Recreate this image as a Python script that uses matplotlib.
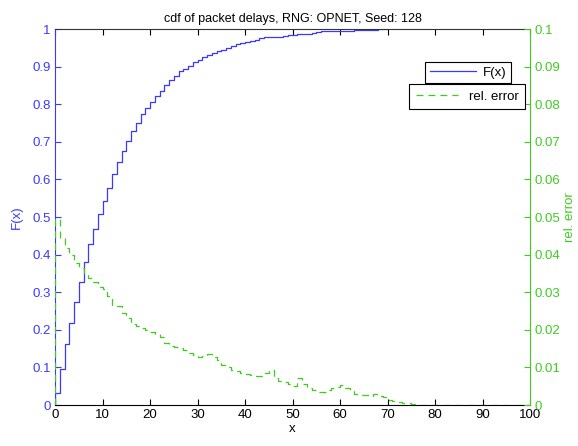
import numpy as np
import matplotlib
matplotlib.use("Agg")
import matplotlib.pyplot as plt
from matplotlib.ticker import FuncFormatter

plt.rcParams['font.family'] = ['Liberation Sans', 'DejaVu Sans']
plt.rcParams['lines.scale_dashes'] = False

# cdf F(x), one value per unit bin [k, k+1)
cdf = [0.031, 0.095, 0.161, 0.219, 0.275, 0.328, 0.381, 0.427, 0.467, 0.508,
       0.543, 0.578, 0.614, 0.647, 0.676, 0.701, 0.728, 0.751, 0.773, 0.789,
       0.806, 0.822, 0.835, 0.851, 0.865, 0.876, 0.887, 0.894, 0.902, 0.912,
       0.917, 0.926, 0.932, 0.936, 0.941, 0.945, 0.949, 0.956, 0.960, 0.963,
       0.965, 0.969, 0.972, 0.975, 0.978, 0.978, 0.980, 0.980, 0.981, 0.984,
       0.984, 0.987, 0.987, 0.988, 0.990, 0.991, 0.994, 0.994, 0.994, 0.994,
       0.994, 0.994, 0.994, 0.997, 0.997, 0.997, 0.997, 0.997, 1.0, 1.0, 1.0]

# relative error per unit bin
rel_err = [0.0495, 0.0443, 0.0417, 0.0398, 0.0378, 0.0365, 0.0348, 0.0338, 0.0328, 0.0315,
           0.0309, 0.0290, 0.0264, 0.0262, 0.0244, 0.0232, 0.0215, 0.0210, 0.0206, 0.0200,
           0.0195, 0.0188, 0.0180, 0.0164, 0.0158, 0.0153, 0.0152, 0.0145, 0.0139, 0.0132,
           0.0128, 0.0130, 0.0136, 0.0128, 0.0120, 0.0107, 0.0100, 0.0093, 0.0090, 0.0085,
           0.0082, 0.0080, 0.0077, 0.0077, 0.0085, 0.0093, 0.0071, 0.0065, 0.0062, 0.0055,
           0.0051, 0.0071, 0.0056, 0.0046, 0.0040, 0.0035, 0.0035, 0.0040, 0.0044, 0.0048,
           0.0053, 0.0045, 0.0038, 0.0030, 0.0027, 0.0027, 0.0025, 0.0029, 0.0025, 0.0022,
           0.0013, 0.0011, 0.0008, 0.0006, 0.0004, 0.0002] + [0.0] * 25

x_cdf = np.r_[0, np.arange(len(cdf))]
y_cdf = np.r_[0, cdf]
x_err = np.r_[0, np.arange(len(rel_err))]
y_err = np.r_[0, rel_err]

blue = '#3a3aff'
green = '#3fcc1f'

fig = plt.figure(figsize=(5.78, 4.46), dpi=100)
ax1 = fig.add_axes([55/578, 41/446, 475/578, 376/446])
ax2 = ax1.twinx()

l1, = ax1.step(x_cdf, y_cdf, where='post', color=blue, lw=0.9, label='F(x)')
l2, = ax2.step(x_err, y_err, where='post', color=green, lw=0.9,
               dashes=(5, 3.6), label='rel. error')

ax1.set_xlim(0, 100)
ax1.set_ylim(0, 1)
ax2.set_ylim(0, 0.1)
ax1.set_xticks(range(0, 101, 10))
ax1.set_yticks(np.linspace(0, 1, 11))
ax2.set_yticks(np.linspace(0, 0.1, 11))
fmt = FuncFormatter(lambda v, p: '%g' % round(v, 4))
ax1.yaxis.set_major_formatter(fmt)
ax2.yaxis.set_major_formatter(fmt)

fs = 9.5
ax1.tick_params(axis='x', direction='in', top=True, length=4, width=0.8,
                labelsize=fs, pad=3, colors='black')
ax1.tick_params(axis='y', direction='in', length=4, width=0.8,
                labelsize=fs, colors=blue, pad=3)
ax2.tick_params(axis='y', direction='in', length=4, width=0.8,
                labelsize=fs, colors=green, pad=3)

ax1.spines['left'].set_color(blue)
ax1.spines['right'].set_visible(False)
ax1.spines['top'].set_color('#333333')
ax1.spines['bottom'].set_color('black')
ax2.spines['right'].set_color(green)
for s in ['left', 'top', 'bottom']:
    ax2.spines[s].set_visible(False)

ax1.set_xlabel('x', fontsize=fs, labelpad=1)
ax1.set_ylabel('F(x)', fontsize=fs, color=blue, labelpad=7)
ax2.set_ylabel('rel. error', fontsize=fs, color=green, rotation=90, labelpad=3)
ax1.set_title('cdf of packet delays, RNG: OPNET, Seed: 128', fontsize=9, pad=5)

leg1 = ax1.legend(handles=[l1], loc='upper right', bbox_to_anchor=(511/578, 1 - 62/446),
                  bbox_transform=fig.transFigure, borderaxespad=0, fancybox=False,
                  edgecolor='black', framealpha=1, fontsize=fs, handlelength=3.5,
                  handletextpad=0.5, borderpad=0.35)
leg1.get_frame().set_linewidth(0.8)
leg2 = ax2.legend(handles=[l2], loc='upper right', bbox_to_anchor=(525/578, 1 - 84/446),
                  bbox_transform=fig.transFigure, borderaxespad=0, fancybox=False,
                  edgecolor='black', framealpha=1, fontsize=fs, handlelength=3.2,
                  handletextpad=0.8, borderpad=0.5)
leg2.get_frame().set_linewidth(0.8)

fig.savefig('out.png', dpi=100)
